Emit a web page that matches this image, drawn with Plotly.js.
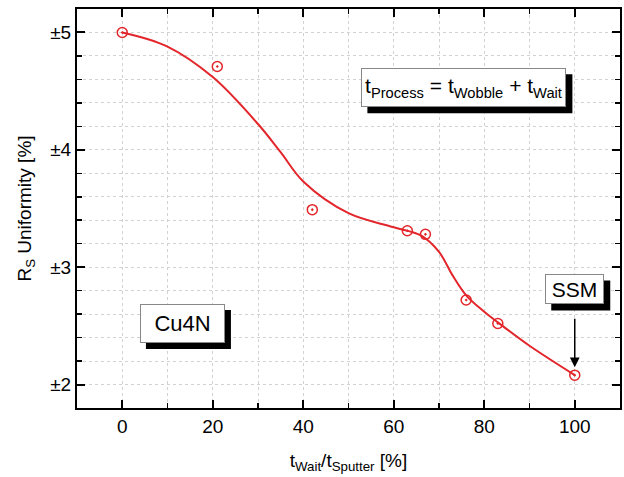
<!DOCTYPE html>
<html><head><meta charset="utf-8">
<script src="https://cdn.plot.ly/plotly-3.0.1.min.js"></script>
<style>html,body{margin:0;padding:0;background:#fff;}</style>
</head><body>
<div id="chart" style="width:624px;height:477px;"></div>
<script>
// measured points
const waitRatio = [0, 21, 42, 63, 67, 76, 83, 100];
const uniformity = [5.0, 4.71, 3.49, 3.31, 3.28, 2.72, 2.52, 2.08];
// smooth fit curve
const fitX = [0, 10, 20, 30, 35, 40, 50, 60, 66, 70, 73, 76, 80, 83, 90, 100];
const fitY = [5.0, 4.88, 4.62, 4.22, 3.98, 3.73, 3.46, 3.34, 3.27, 3.13, 2.93, 2.76, 2.62, 2.53, 2.33, 2.08];
const xTicks = [0, 20, 40, 60, 80, 100];
const yTicks = [2, 3, 4, 5];
const yTickText = ['±2', '±3', '±4', '±5'];

const red = '#e3262b';
const font = 'Liberation Sans, Arial, sans-serif';
const gridCol = '#d2d2d2';

const traces = [
  {x: fitX, y: fitY, mode: 'lines', line: {color: red, width: 2, shape: 'spline', smoothing: 1}, hoverinfo: 'skip'},
  {x: waitRatio, y: uniformity, mode: 'markers', marker: {symbol: 'circle-open-dot', size: 10, color: red, line: {width: 1.5, color: red}}}
];

const shapes = [];
const annotations = [];
function box(text, x, y, w, h, size) {
  const W = w + 2, H = h + 2;
  shapes.push({type: 'rect', layer: 'above', xref: 'x', yref: 'y', xsizemode: 'pixel', ysizemode: 'pixel',
    xanchor: x, yanchor: y, x0: -W / 2 + 6, x1: W / 2 + 6, y0: -H / 2 - 6, y1: H / 2 - 6,
    fillcolor: '#000', line: {width: 0}});
  annotations.push({x: x, y: y, xref: 'x', yref: 'y', text: text, showarrow: false,
    width: w, height: h, borderpad: 0, borderwidth: 1, bgcolor: '#fff', bordercolor: '#888',
    font: {family: font, size: size, color: '#000'}});
}

box('t<sub>Process</sub> = t<sub>Wobble</sub> + t<sub>Wait</sub>', 75.5, 4.53, 203, 37, 21);
box('Cu4N', 13.3, 2.52, 83, 37, 22);
box('SSM', 100, 2.81, 57, 28, 21);
annotations.push({x: 100, y: 2.08, xref: 'x', yref: 'y', text: '', showarrow: true, ax: 0, ay: -58,
  arrowhead: 2, arrowsize: 1.3, arrowwidth: 1.5, arrowcolor: '#000', standoff: 8});

const axisCommon = {
  showline: true, linecolor: '#000', linewidth: 2, mirror: 'ticks',
  ticks: 'inside', ticklen: 8, tickwidth: 2, tickcolor: '#000',
  showgrid: true, gridcolor: gridCol, griddash: 'dot', gridwidth: 1,
  zeroline: false, tickfont: {family: font, size: 19, color: '#000'}
};

const layout = {
  width: 624, height: 477,
  margin: {l: 77, r: 4, t: 9, b: 69},
  paper_bgcolor: '#fff', plot_bgcolor: '#fff',
  showlegend: false,
  xaxis: Object.assign({}, axisCommon, {
    range: [-10, 110], tickmode: 'array', tickvals: xTicks,
    minor: {dtick: 10, tick0: 0, ticks: 'inside', ticklen: 5, tickwidth: 1.5, tickcolor: '#000', showgrid: true, gridcolor: gridCol, griddash: 'dot', gridwidth: 1},
    title: {text: 't<sub>Wait</sub>/t<sub>Sputter</sub> [%]', font: {family: font, size: 19, color: '#000'}, standoff: 18}
  }),
  yaxis: Object.assign({}, axisCommon, {
    range: [1.8, 5.2], tickmode: 'array', tickvals: yTicks, ticktext: yTickText,
    minor: {dtick: 0.2, tick0: 0, ticks: 'inside', ticklen: 5, tickwidth: 1.5, tickcolor: '#000', showgrid: true, gridcolor: gridCol, griddash: 'dot', gridwidth: 1},
    title: {text: 'R<sub>S</sub> Uniformity [%]', font: {family: font, size: 19, color: '#000'}, standoff: 14}
  }),
  shapes: shapes,
  annotations: annotations
};

Plotly.newPlot('chart', traces, layout, {displayModeBar: false, staticPlot: true});
</script>
</body></html>
